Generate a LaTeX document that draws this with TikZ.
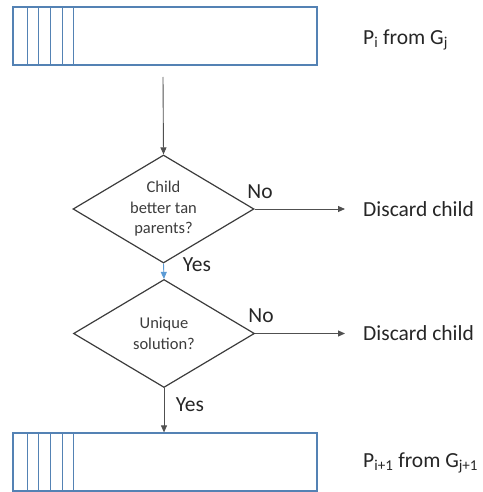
\documentclass[tikz,border=0pt]{standalone}
\usepackage{fontspec}
\setmainfont{Carlito}
\usetikzlibrary{arrows.meta}
\usetikzlibrary{backgrounds}
\usetikzlibrary{shapes.geometric}
\usetikzlibrary{positioning}
\pgfdeclarelayer{edgelayer}
\pgfdeclarelayer{nodelayer}
\pgfsetlayers{background,edgelayer,nodelayer,main}
\definecolor{boxblue}{RGB}{84,130,180}
\definecolor{linkblue}{RGB}{91,155,213}
\definecolor{edgegray}{RGB}{80,80,80}
\definecolor{shapegray}{RGB}{60,60,60}
\tikzstyle{none}=[inner sep=0mm]
\tikzstyle{pool}=[draw=boxblue,line width=1.2pt,shape=rectangle,minimum width=304pt,minimum height=58pt,inner sep=0pt]
\tikzstyle{slot}=[draw=boxblue,line width=1.2pt]
\tikzstyle{test}=[draw=shapegray,line width=1.2pt,shape=diamond,aspect=1.68,minimum width=181pt,minimum height=108pt,inner sep=0pt,align=center,text=shapegray,font=\fontsize{16.5}{20.5}\selectfont]
\tikzstyle{tag}=[inner sep=0mm,text=black!85,font=\fontsize{21.5}{26}\selectfont]
\tikzstyle{diredge}=[draw=edgegray,line width=0.9pt,-{Triangle[length=7pt,width=6pt]}]
\tikzstyle{bluedge}=[diredge,draw=linkblue,fill=linkblue]

\begin{document}
\begin{tikzpicture}[x=1pt,y=-1pt]
	\useasboundingbox (0,0) rectangle (482,492);
	\begin{pgfonlayer}{nodelayer}
		\clip (0,0) rectangle (482,492);
		\node [style=pool] (0) at (165, 36) {};
		\node [style=pool] (1) at (165, 462) {};
		\foreach \n in {0,1}
			\foreach \dx in {15,26,38,50,61}
				\draw [style=slot] ([xshift=\dx pt]\n.north west) to ([xshift=\dx pt]\n.south west);
		\node [style=tag, anchor=west] (2) at (363, 40) {P\textsubscript{i} from G\textsubscript{j}};
		\node [style=tag, anchor=west] (3) at (363, 463) {P\textsubscript{i+1} from G\textsubscript{j+1}};
		\coordinate (4) at (163, 77);
		\node [style=test] (5) at (163.5, 209) {Child\\better tan\\parents?};
		\node [style=test] (6) at (164, 333.5) {Unique\\solution?};
		\coordinate (7) at (345, 209);
		\coordinate (8) at (345, 333.5);
		\node [style=tag, anchor=west] (9) at (363, 209) {Discard child};
		\node [style=tag, anchor=west] (10) at (363, 333.5) {Discard child};
		\node [style=tag] (11) at (260, 192) {No};
		\node [style=tag] (12) at (261, 316) {No};
		\node [style=tag] (13) at (197, 265) {Yes};
		\node [style=tag] (14) at (190, 405) {Yes};
	\end{pgfonlayer}
	\begin{pgfonlayer}{edgelayer}
		\draw [style=diredge] (4) to (5.north);
		\draw [style=diredge] (5.east) to (7);
		\draw [style=bluedge] (5.south) to (6.north);
		\draw [style=diredge] (6.east) to (8);
		\draw [style=diredge] (6.south) to (1.north -| 6.south);
	\end{pgfonlayer}
\end{tikzpicture}
\end{document}
